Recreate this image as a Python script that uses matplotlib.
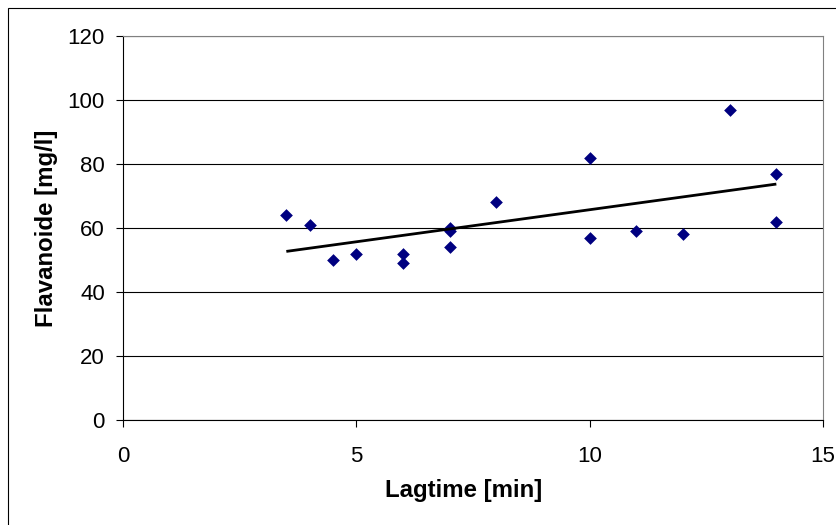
import numpy as np
import matplotlib
matplotlib.use("Agg")
import matplotlib.pyplot as plt
from matplotlib.patches import Rectangle

plt.rcParams['font.family'] = ['Liberation Sans', 'DejaVu Sans']

lagtime = [3.5, 4, 4.5, 5, 6, 6, 7, 7, 7, 8, 10, 10, 11, 12, 13, 14, 14]
flavanoide = [64, 61, 50, 52, 52, 49, 60, 59, 54, 68, 82, 57, 59, 58, 97, 77, 62]
x_ticks = [0, 5, 10, 15]
y_ticks = [0, 20, 40, 60, 80, 100, 120]

W, H = 837, 525
fig = plt.figure(figsize=(W / 100, H / 100), dpi=100)
ax = fig.add_axes([123 / W, 105 / H, 700 / W, 384 / H])

ax.scatter(lagtime, flavanoide, marker='D', s=42, color='#000080', zorder=3, linewidths=0)

# linear trend line over the data range
x = np.array(lagtime, dtype=float)
slope, intercept = np.polyfit(x, flavanoide, 1)
xs = np.array([x.min(), x.max()])
ax.plot(xs, slope * xs + intercept, color='black', lw=2.0, zorder=4, solid_capstyle='butt')

ax.set_xlim(0, 15)
ax.set_ylim(0, 120)
ax.set_xticks(x_ticks)
ax.set_yticks(y_ticks)
ax.yaxis.grid(True, color='black', lw=0.8)
ax.set_axisbelow(True)
ax.tick_params(direction='out', length=5, width=0.8, labelsize=16, colors='black')
ax.tick_params(axis='x', pad=14)
ax.tick_params(axis='y', pad=8)

for side in ('left', 'bottom'):
    ax.spines[side].set_color('black')
    ax.spines[side].set_linewidth(0.8)
for side in ('top', 'right'):
    ax.spines[side].set_color('#808080')
    ax.spines[side].set_linewidth(0.8)

fig.text(464 / W, 1 - 490 / H, 'Lagtime [min]', fontsize=17.3, fontweight='bold',
         ha='center', va='center')
fig.text(47 / W, 1 - 228 / H, 'Flavanoide [mg/l]', fontsize=17.3, fontweight='bold',
         ha='center', va='center', rotation=90)

# chart area border
fig.patches.append(Rectangle((8.5 / W, -0.05), 1.0, 1 - 7.5 / H + 0.05,
                             transform=fig.transFigure, fill=False,
                             edgecolor='black', lw=0.8))

fig.savefig('out.png', dpi=100)
